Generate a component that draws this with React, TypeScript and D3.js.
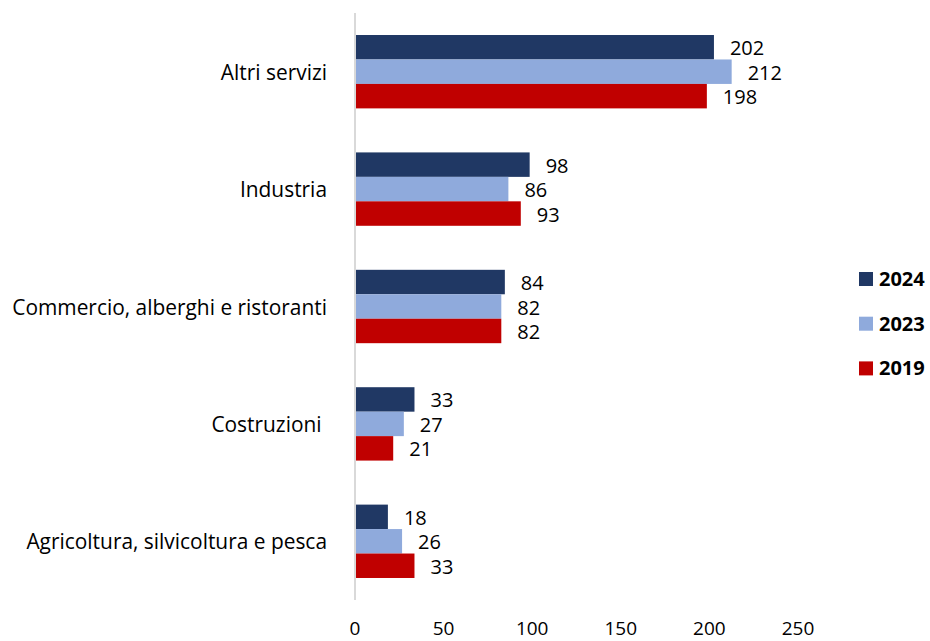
import React from "react";
import * as d3 from "d3";

const categories = [
  "Altri servizi",
  "Industria",
  "Commercio, alberghi e ristoranti",
  "Costruzioni ",
  "Agricoltura, silvicoltura e pesca",
];
const seriesNames = ["2024", "2023", "2019"];
const values2024 = [202, 98, 84, 33, 18];
const values2023 = [212, 86, 82, 27, 26];
const values2019 = [198, 93, 82, 21, 33];
const xTicks = [0, 50, 100, 150, 200, 250];
const colors = ["#203864", "#8FAADC", "#C00000"];

const W = 930;
const H = 641;
const FONT = "'Open Sans', sans-serif";

export default function App() {
  const series = [values2024, values2023, values2019];
  const x = d3.scaleLinear().domain([0, 250]).range([356, 799]);
  const y = d3.scaleBand().domain(categories).range([13, 600]).paddingInner(0.375).paddingOuter(0.1875);
  const inner = d3.scaleBand().domain(seriesNames).range([0, y.bandwidth()]);

  return (
    <svg width={W} height={H} style={{ position: "absolute", left: 0, top: 0, background: "#fff" }}>
      {categories.map((c, i) => {
        const y0 = y(c)!;
        const cy = y0 + y.bandwidth() / 2;
        return (
          <g key={c}>
            <text x={327} y={cy + 8} textAnchor="end" fontFamily={FONT} fontSize={20.9} fill="#000" style={{ whiteSpace: "pre" }}>
              {c}
            </text>
            {seriesNames.map((s, j) => {
              const v = series[j][i];
              const by = y0 + inner(s)!;
              return (
                <g key={s}>
                  <rect x={x(0)} y={by} width={x(v) - x(0)} height={inner.bandwidth()} fill={colors[j]} />
                  <text x={x(v) + 16} y={by + inner.bandwidth() / 2 + 8} fontFamily={FONT} fontSize={20} fill="#000">
                    {v}
                  </text>
                </g>
              );
            })}
          </g>
        );
      })}
      <line x1={355} x2={355} y1={13} y2={600} stroke="#D9D9D9" strokeWidth={2} />
      {xTicks.map((t) => (
        <text key={t} x={x(t) - 1} y={635} textAnchor="middle" fontFamily={FONT} fontSize={19} fill="#000">
          {t}
        </text>
      ))}
      {seriesNames.map((s, j) => (
        <g key={s}>
          <rect x={859} y={272 + j * 44.7} width={14} height={14} fill={colors[j]} />
          <text x={879} y={286 + j * 44.7} fontFamily={FONT} fontSize={20} fontWeight="bold" fill="#000">
            {s}
          </text>
        </g>
      ))}
    </svg>
  );
}
